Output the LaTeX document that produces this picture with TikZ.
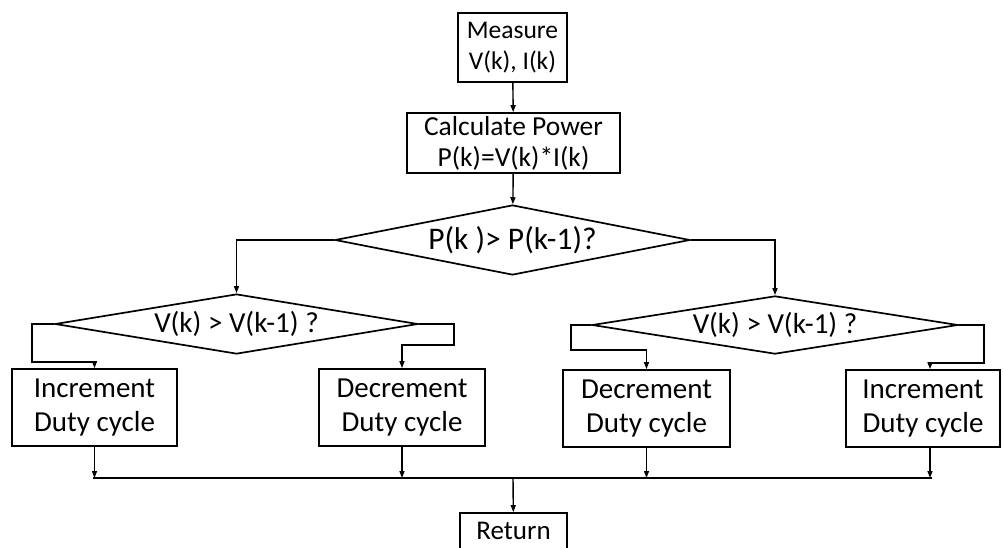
\documentclass[tikz,border=0pt]{standalone}
\usepackage{fontspec}
\setmainfont{Carlito}
\usetikzlibrary{shapes.geometric,arrows.meta}
\begin{document}
\begin{tikzpicture}[x=1pt,y=-1pt,
  box/.style={draw,line width=1.7pt,rectangle,inner sep=0pt,align=center},
  decision/.style={draw,line width=1.7pt,diamond,inner sep=0pt,aspect=5,align=center},
  link/.style={line width=1.4pt},
  arr/.style={link,-{Triangle[length=7pt,width=5pt]}},
  font=\fontsize{29}{34}\selectfont]
\useasboundingbox (0,0) rectangle (1003,547);

% process steps
\node[box,minimum width=109pt,minimum height=69pt,font=\fontsize{25.5}{31}\selectfont]
  (measure) at (512.5,47.5) {Measure\\V(k), I(k)};
\node[box,minimum width=213pt,minimum height=60pt,font=\fontsize{27.5}{31}\selectfont]
  (calc) at (513.5,143) {Calculate Power\\P(k)=V(k)*I(k)};

% decisions
\node[decision,minimum width=355pt,minimum height=70pt,font=\fontsize{31.5}{34}\selectfont]
  (d1) at (512.5,240) {P(k )> P(k-1)?};
\node[decision,minimum width=363pt,minimum height=60pt]
  (d2) at (236.5,324) {V(k) > V(k-1) ?};
\node[decision,minimum width=366pt,minimum height=58pt]
  (d3) at (775,325) {V(k) > V(k-1) ?};

% duty-cycle updates
\node[box,minimum width=165pt,minimum height=77pt] (inc1) at (94.5,407.5) {Increment\\Duty cycle};
\node[box,minimum width=166pt,minimum height=77pt] (dec1) at (402,407.5) {Decrement\\Duty cycle};
\node[box,minimum width=167pt,minimum height=77pt] (dec2) at (646.5,408.5) {Decrement\\Duty cycle};
\node[box,minimum width=154pt,minimum height=77pt] (inc2) at (923,408.5) {Increment\\Duty cycle};

\node[box,minimum width=107pt,minimum height=36pt,font=\fontsize{27}{31}\selectfont]
  (ret) at (513.5,531) {Return};

% merge point above Return
\coordinate (m) at (513,478);

% main chain
\draw[arr] (measure) -- (calc);
\draw[arr] (calc) -- (d1);
\draw[arr] (d1.west) -| (d2.north);
\draw[arr] (d1.east) -| (d3.north);

% left decision branches
\draw[arr] (d2.west) -- ++(-22,0) -- ++(0,38) -| (inc1.north);
\draw[arr] (d2.east) -- ++(35,0) -- ++(0,21) -| (dec1.north);

% right decision branches
\draw[arr] (d3.west) -- ++(-20,0) -- ++(0,25) -| (dec2.north);
\draw[arr] (d3.east) -- ++(25,0) -- ++(0,38) -| ([xshift=7pt]inc2.north);

% collect results
\draw[arr] (inc1.south) -- (inc1.south |- m);
\draw[arr] (dec1.south) -- (dec1.south |- m);
\draw[arr] (dec2.south) -- (dec2.south |- m);
\draw[arr] ([xshift=7pt]inc2.south) -- ([xshift=7pt]inc2.south |- m);
\draw[link] ([xshift=-2pt]inc1.south |- m) -- ([xshift=9pt]inc2.south |- m);
\draw[arr] (m) -- (ret);
\end{tikzpicture}
\end{document}
